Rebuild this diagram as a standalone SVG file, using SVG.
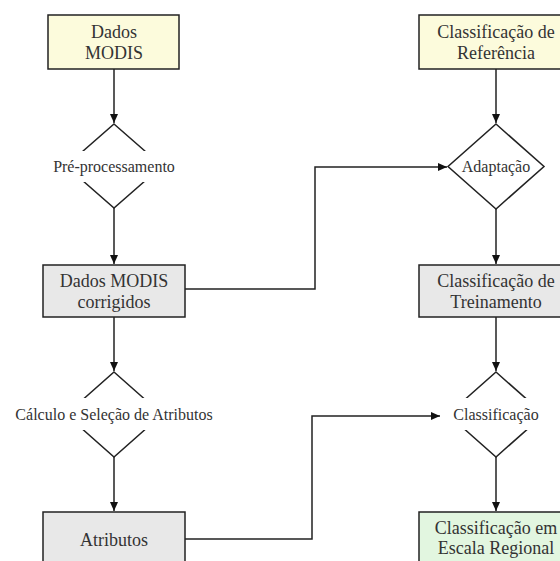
<svg xmlns="http://www.w3.org/2000/svg" width="560" height="561" viewBox="0 0 560 561">
<style>
.box{stroke:#222;stroke-width:1.5}
.yel{fill:#fcfbdc}
.gry{fill:#e8e8e8}
.grn{fill:#e2f6e0}
.dia{fill:#fff;stroke:#222;stroke-width:1.5}
.lbl{fill:#fff;stroke:none}
text{font-family:'Liberation Serif','Times New Roman',Times,serif;font-size:16px;fill:#333;text-anchor:middle}
text.b{font-size:18px}
.c{fill:none;stroke:#222;stroke-width:1.5}
</style>
<defs>
<marker id="ah" markerWidth="10" markerHeight="10" refX="9" refY="4" orient="auto" markerUnits="userSpaceOnUse">
<path d="M0,0 L9,4 L0,8 Z" fill="#111"/>
</marker>
</defs>
<rect width="560" height="561" fill="#fff"/>
<g id="connectors">
<path class="c" d="M114,69 V123" marker-end="url(#ah)"/>
<path class="c" d="M114,208 V264" marker-end="url(#ah)"/>
<path class="c" d="M114,317 V371" marker-end="url(#ah)"/>
<path class="c" d="M114,457 V511" marker-end="url(#ah)"/>
<path class="c" d="M496,69 V123" marker-end="url(#ah)"/>
<path class="c" d="M496,209 V264" marker-end="url(#ah)"/>
<path class="c" d="M496,317 V371" marker-end="url(#ah)"/>
<path class="c" d="M496,457 V511" marker-end="url(#ah)"/>
<path class="c" d="M185,289 H315 V167 H447" marker-end="url(#ah)"/>
<path class="c" d="M184,539 H312 V416 H440" marker-end="url(#ah)"/>
</g>
<g id="dados-modis">
<rect class="box yel" x="48" y="15" width="131" height="54"/>
<text class="b" x="114" y="38">Dados</text>
<text class="b" x="114" y="59">MODIS</text>
</g>
<g id="pre-processamento">
<path class="dia" d="M114,124 L162,166 L114,208 L66,166 Z"/>
<rect class="lbl" x="50" y="151" width="128" height="31"/>
<text x="114" y="172">Pré-processamento</text>
</g>
<g id="dados-modis-corrigidos">
<rect class="box gry" x="43" y="265" width="142" height="52"/>
<text class="b" x="114" y="287">Dados MODIS</text>
<text class="b" x="114" y="308">corrigidos</text>
</g>
<g id="calculo-selecao">
<path class="dia" d="M114,372 L162,414.5 L114,457 L66,414.5 Z"/>
<rect class="lbl" x="8" y="398" width="210" height="32"/>
<text x="114" y="420">Cálculo e Seleção de Atributos</text>
</g>
<g id="atributos">
<rect class="box gry" x="43" y="512" width="142" height="53"/>
<text class="b" x="114" y="546">Atributos</text>
</g>
<g id="classificacao-referencia">
<rect class="box yel" x="419" y="15" width="154" height="54"/>
<text class="b" x="496" y="38">Classificação de</text>
<text class="b" x="496" y="59">Referência</text>
</g>
<g id="adaptacao">
<path class="dia" d="M496,124 L544,166.5 L496,209 L448,166.5 Z"/>
<text x="496" y="172">Adaptação</text>
</g>
<g id="classificacao-treinamento">
<rect class="box gry" x="419" y="265" width="154" height="52"/>
<text class="b" x="496" y="287">Classificação de</text>
<text class="b" x="496" y="308">Treinamento</text>
</g>
<g id="classificacao">
<path class="dia" d="M496,372 L544,414.5 L496,457 L448,414.5 Z"/>
<rect class="lbl" x="445" y="398" width="102" height="32"/>
<text x="496" y="420">Classificação</text>
</g>
<g id="classificacao-regional">
<rect class="box grn" x="419" y="512" width="154" height="53"/>
<text class="b" x="496" y="534">Classificação em</text>
<text class="b" x="496" y="554">Escala Regional</text>
</g>
</svg>
